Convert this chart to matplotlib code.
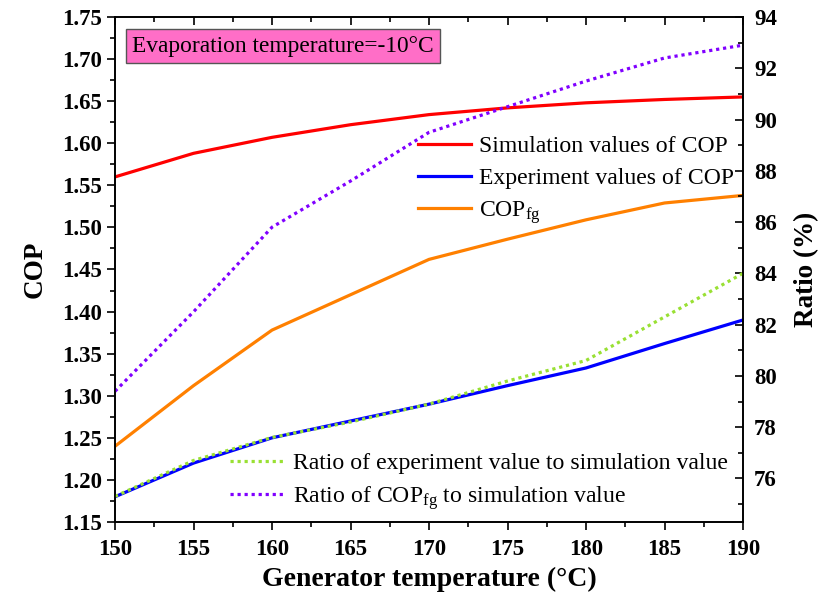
import numpy as np
import matplotlib
matplotlib.use("Agg")
import matplotlib.pyplot as plt
from matplotlib.ticker import MultipleLocator

plt.rcParams['font.family'] = ['Liberation Serif', 'DejaVu Serif']
plt.rcParams['mathtext.fontset'] = 'custom'
plt.rcParams['mathtext.rm'] = 'Liberation Serif'
plt.rcParams['mathtext.it'] = 'Liberation Serif'

# generator temperature (degC)
temps = [150, 155, 160, 165, 170, 175, 180, 185, 190]
# COP values (left axis)
cop_sim = [1.560, 1.588, 1.607, 1.622, 1.634, 1.642, 1.648, 1.652, 1.655]
cop_exp = [1.180, 1.220, 1.250, 1.270, 1.290, 1.312, 1.333, 1.362, 1.390]
cop_fg = [1.240, 1.312, 1.378, 1.420, 1.462, 1.486, 1.509, 1.529, 1.538]
# ratios in % (right axis)
ratio_exp = [75.3, 76.7, 77.6, 78.2, 78.9, 79.8, 80.6, 82.3, 84.0]
ratio_fg = [79.4, 82.5, 85.8, 87.6, 89.5, 90.5, 91.5, 92.4, 92.9]

fig = plt.figure(figsize=(8.24, 6.06), dpi=100)
ax = fig.add_axes([0.1396, 0.1386, 0.7621, 0.8334])
ax2 = ax.twinx()

l1, = ax.plot(temps, cop_sim, color="#ff0000", lw=2.3, label="Simulation values of COP")
l2, = ax.plot(temps, cop_exp, color="#0000ff", lw=2.3, label="Experiment values of COP")
l3, = ax.plot(temps, cop_fg, color="#ff8000", lw=2.3, label=r"COP$_{\mathrm{fg}}$")
l4, = ax2.plot(temps, ratio_exp, color="#99e033", lw=2.3, ls=(0, (1, 1.2)),
               label="Ratio of experiment value to simulation value")
l5, = ax2.plot(temps, ratio_fg, color="#8000ff", lw=2.3, ls=(0, (1, 1.2)),
               label=r"Ratio of COP$_{\mathrm{fg}}$ to simulation value")

ax.set_xlim(150, 190)
ax.set_ylim(1.15, 1.75)
ax2.set_ylim(74.3, 94)
ax.xaxis.set_major_locator(MultipleLocator(5))
ax.xaxis.set_minor_locator(MultipleLocator(2.5))
ax.yaxis.set_major_locator(MultipleLocator(0.05))
ax.yaxis.set_minor_locator(MultipleLocator(0.025))
ax2.yaxis.set_major_locator(MultipleLocator(2))
ax2.yaxis.set_minor_locator(MultipleLocator(1))
ax.yaxis.set_major_formatter(matplotlib.ticker.FormatStrFormatter('%.2f'))

ax.tick_params(axis='x', which='both', direction='out', top=True, labeltop=False)
ax.tick_params(axis='x', which='major', length=6, width=1.2, labelsize=16.5, pad=6)
ax.tick_params(axis='x', which='minor', length=3.5, width=1.2)
ax.tick_params(axis='y', which='major', direction='out', length=6, width=1.2, labelsize=16.5)
ax.tick_params(axis='y', which='minor', direction='out', length=3.5, width=1.2)
ax2.tick_params(axis='y', which='major', direction='in', length=6, width=1.2, labelsize=16.5, pad=8)
ax2.tick_params(axis='y', which='minor', direction='in', length=3.5, width=1.2)
# top ticks point inward
for t in ax.xaxis.get_major_ticks() + ax.xaxis.get_minor_ticks():
    t.tick2line.set_marker(matplotlib.lines.TICKDOWN)
for a in (ax, ax2):
    for lab in a.get_xticklabels() + a.get_yticklabels():
        lab.set_fontweight('bold')
    for s in a.spines.values():
        s.set_linewidth(1.2)

ax.set_xlabel("Generator temperature (\u00b0C)", fontsize=20, fontweight='bold', labelpad=5)
ax.set_ylabel("COP", fontsize=19.5, fontweight='bold', labelpad=10)
ax2.set_ylabel("Ratio (%)", fontsize=19.5, fontweight='bold', labelpad=12)

ax.text(0.027, 0.963, "Evaporation temperature=-10\u00b0C", transform=ax.transAxes,
        fontsize=16.8, va='top', ha='left',
        bbox=dict(boxstyle='square,pad=0.27', facecolor='#ff6ec7', edgecolor='#555555', lw=1))

ax.legend(handles=[l1, l2, l3], loc='upper left', bbox_to_anchor=(0.482, 0.765),
          frameon=False, fontsize=17.1, handlelength=2.25, handletextpad=0.35,
          labelspacing=0.42, borderaxespad=0, borderpad=0)
ax2.legend(handles=[l4, l5], loc='upper left', bbox_to_anchor=(0.183, 0.137),
           frameon=False, fontsize=17.1, handlelength=2.3, handletextpad=0.35,
           labelspacing=0.4, borderaxespad=0, borderpad=0)

fig.savefig("out.png", dpi=100)
